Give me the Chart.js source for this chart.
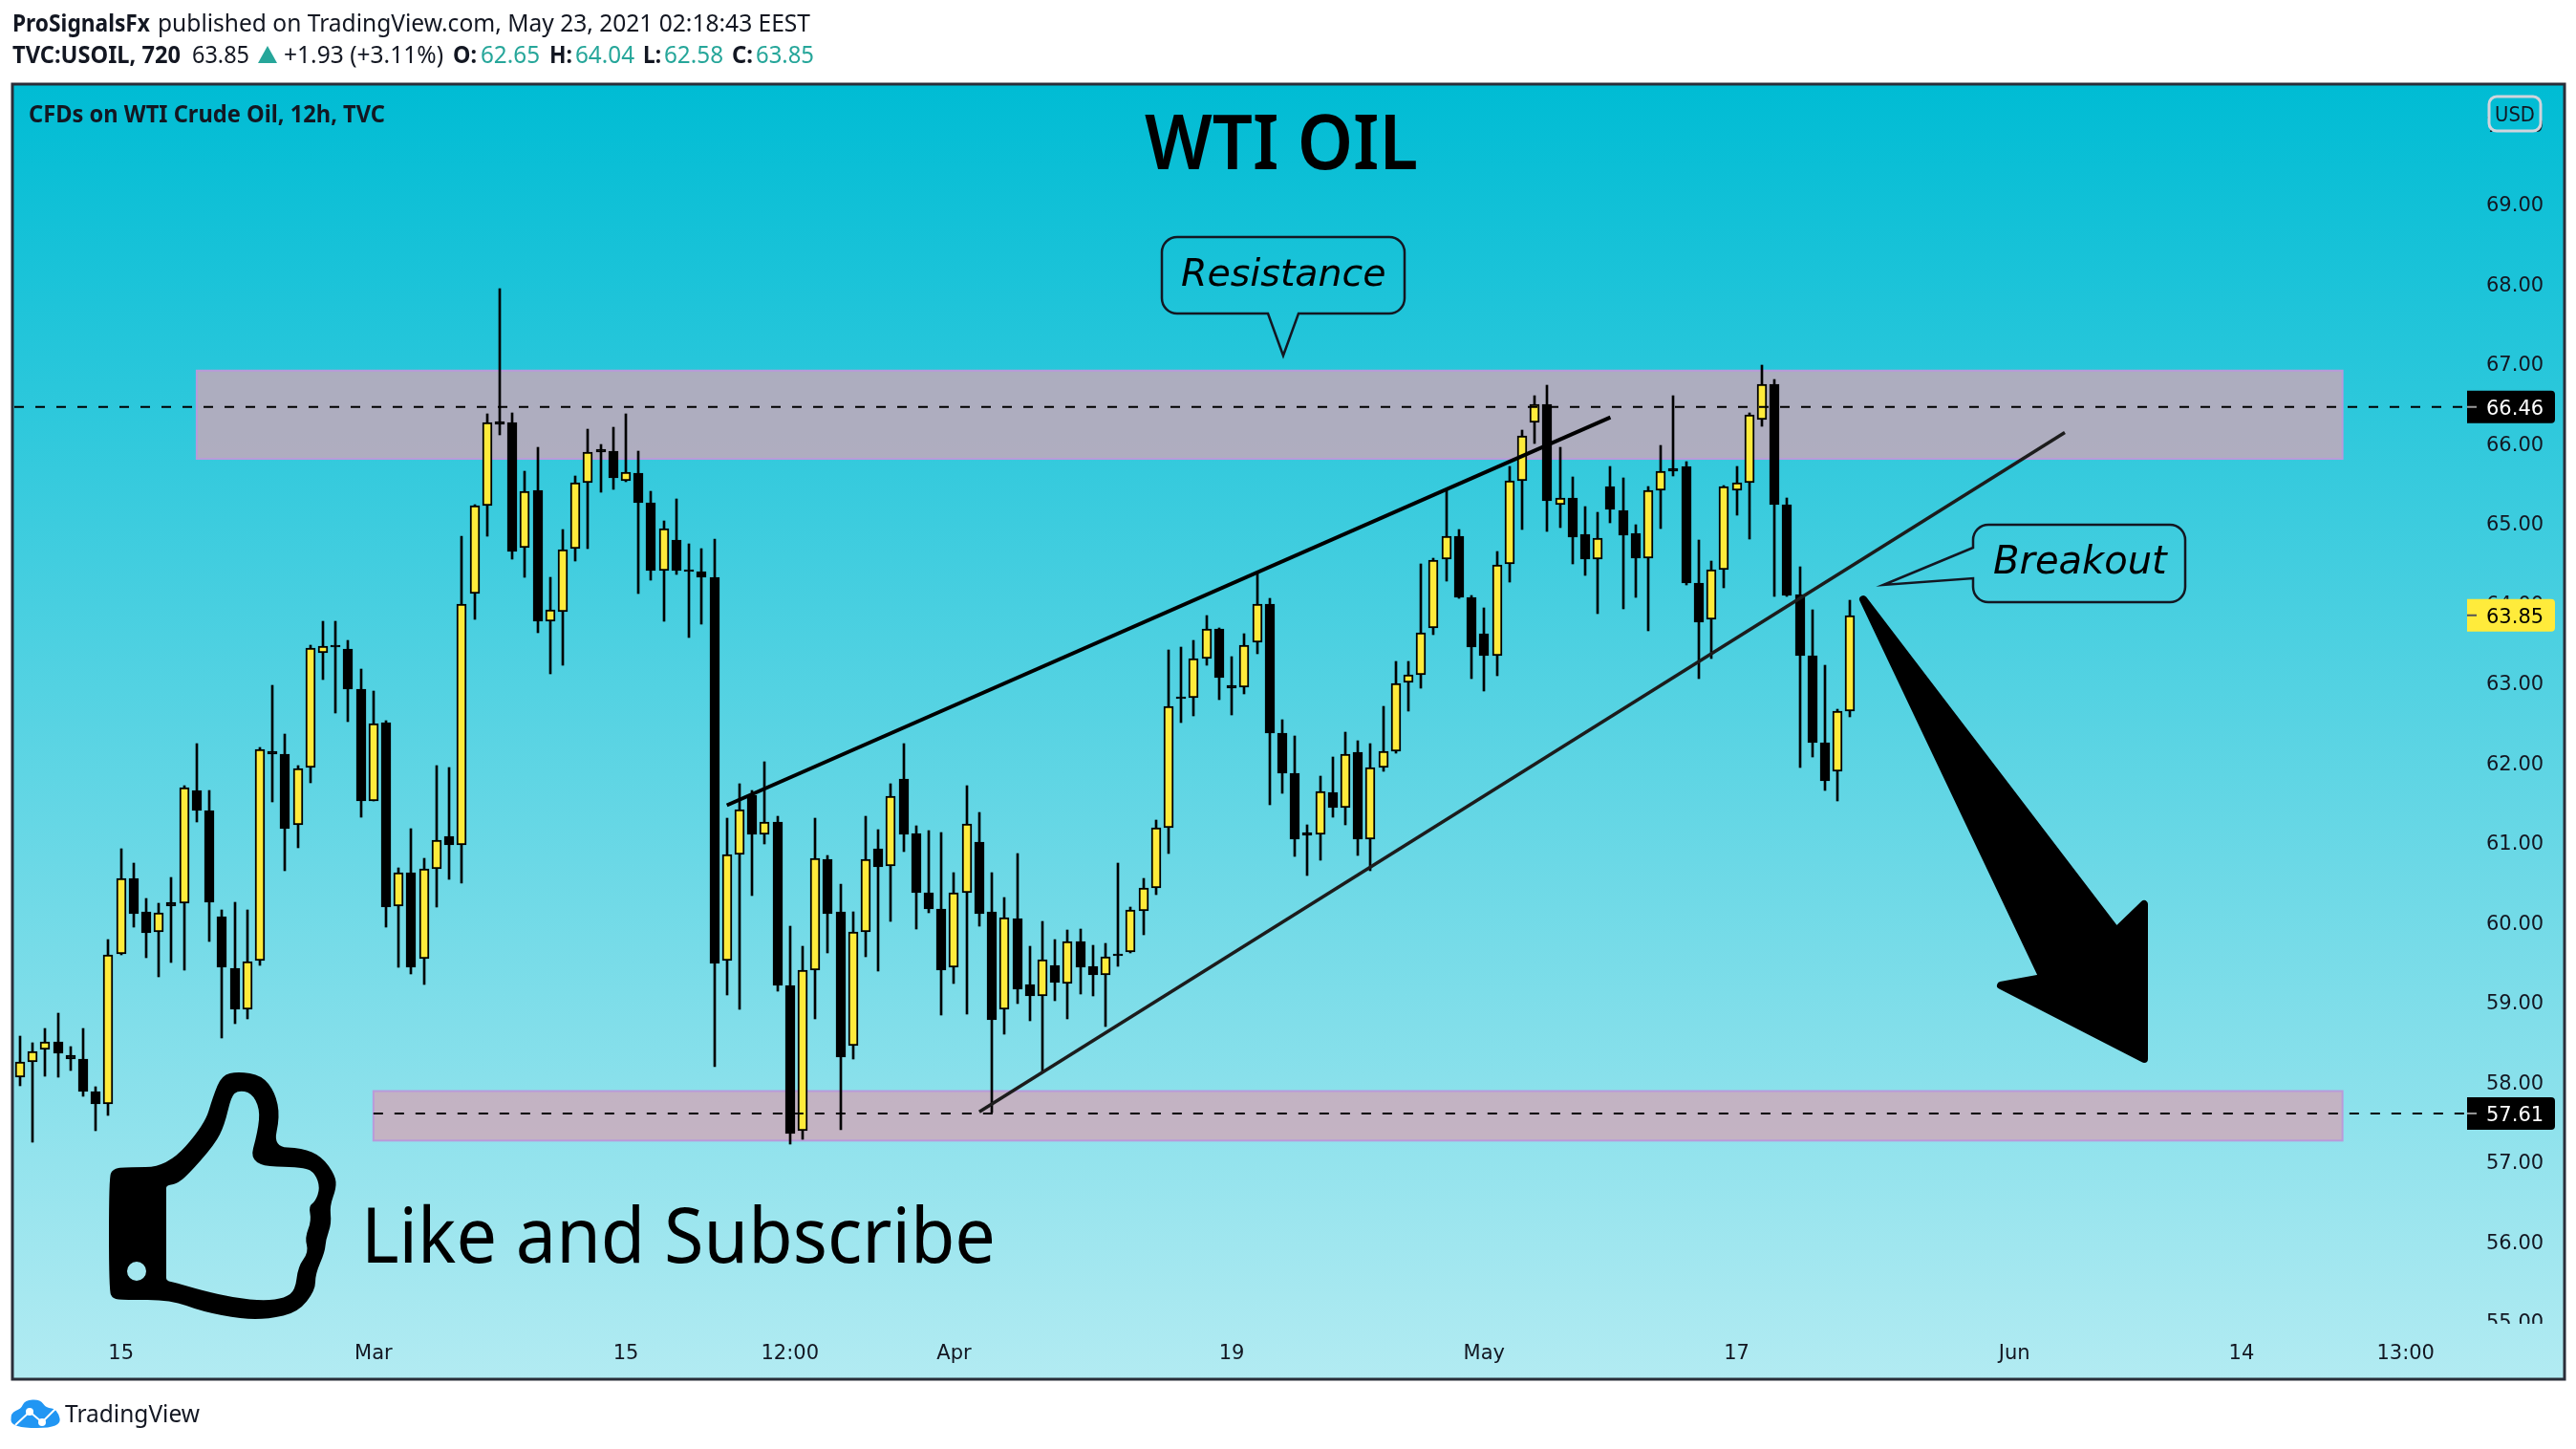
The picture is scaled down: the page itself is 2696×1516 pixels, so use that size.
<!DOCTYPE html>
<html>
<head>
<meta charset="utf-8">
<title>WTI OIL</title>
<script src="https://cdn.jsdelivr.net/npm/chart.js@4"></script>
<style>
html, body { margin: 0; background: #fff; }
canvas { display: block; }
</style>
</head>
<body>
<canvas id="chart" width="2696" height="1516"></canvas>
<script>
const opens = [58.07,58.25,58.41,58.51,58.34,58.29,57.89,57.73,59.61,60.55,60.13,59.88,60.25,60.24,61.65,61.40,60.08,59.43,58.92,59.52,
    62.15,62.11,61.23,61.94,63.38,63.48,63.43,62.93,61.52,62.51,60.21,60.63,59.55,60.67,61.08,60.97,64.12,65.22,66.28,66.26,
    64.70,65.41,63.78,63.90,64.68,65.51,65.93,65.91,65.53,65.63,65.26,64.41,64.79,64.42,64.40,64.33,59.52,60.85,61.60,61.10,
    61.26,59.21,57.39,59.41,60.79,60.13,58.46,59.88,60.93,60.71,61.80,61.12,60.38,60.17,59.44,60.37,61.01,60.13,58.92,60.05,
    59.22,59.08,59.47,59.24,59.76,59.45,59.35,59.61,59.63,60.15,60.44,61.19,62.83,62.82,63.31,63.68,62.97,62.95,63.51,63.99,
    62.38,61.87,61.13,61.10,61.63,61.44,62.14,61.04,61.94,62.15,63.01,63.10,63.69,64.55,64.84,64.08,63.62,63.35,64.49,65.53,
    66.27,66.49,65.24,65.32,64.87,64.55,65.46,65.16,64.88,64.56,65.41,65.69,65.72,64.26,63.80,64.42,65.41,65.51,66.30,66.74,
    65.24,64.11,63.34,62.25,61.90,62.65];
const highs = [58.58,58.49,58.67,58.87,58.45,58.68,57.94,59.79,60.92,60.75,60.30,60.24,60.57,61.71,62.24,61.65,60.16,60.26,60.16,62.19,
    62.97,62.36,61.97,63.47,63.77,63.78,63.54,63.18,62.90,62.53,60.69,61.18,60.80,61.97,61.94,64.84,65.24,66.37,67.94,66.38,
    65.65,65.95,64.32,64.92,65.59,66.18,65.99,66.20,66.37,65.91,65.40,65.03,65.31,64.74,64.68,64.80,61.31,61.74,61.65,62.02,
    61.33,59.96,59.71,61.31,60.84,60.48,60.13,61.33,61.16,61.74,62.24,61.21,61.15,61.13,60.63,61.71,61.38,60.63,60.31,60.86,
    59.70,60.01,59.79,59.91,59.92,59.72,59.74,60.74,60.19,60.56,61.28,63.41,63.45,63.53,63.85,63.69,63.33,63.62,64.39,64.06,
    62.54,62.34,61.23,61.84,62.08,62.39,62.28,62.24,62.71,63.27,63.27,64.49,64.57,65.41,64.92,64.10,63.94,64.65,65.71,66.17,
    66.60,66.73,65.95,65.58,65.21,65.14,65.71,65.57,64.98,65.46,65.98,66.60,65.78,64.79,64.53,65.47,65.71,66.39,66.98,66.80,
    65.32,64.46,63.92,63.22,62.67,64.04];
const lows = [57.96,57.25,58.08,58.06,58.15,57.82,57.39,57.59,59.60,59.94,59.56,59.32,59.50,59.41,61.26,59.76,58.56,58.73,58.79,59.46,
    61.51,60.65,60.94,61.75,63.04,62.62,62.52,61.32,61.52,59.94,59.44,59.36,59.22,60.19,60.54,60.50,63.80,64.84,66.11,64.55,
    64.32,63.63,63.12,63.22,64.53,64.68,65.39,65.43,65.52,64.12,64.29,63.78,64.36,63.57,63.74,58.20,59.09,58.91,60.34,60.98,
    59.14,57.23,57.28,58.80,59.62,57.41,58.29,59.57,59.39,60.01,60.89,59.92,60.12,58.84,59.24,58.86,59.96,57.62,58.60,58.99,
    58.77,58.12,59.02,58.80,59.10,59.08,58.70,59.45,59.62,59.85,60.35,60.87,62.51,62.59,63.23,62.79,62.60,62.87,63.37,61.48,
    61.62,60.83,60.59,60.78,61.32,61.23,60.84,60.65,61.89,62.12,62.65,62.94,63.61,64.28,64.06,63.06,62.90,63.09,64.27,64.93,
    66.00,64.90,64.95,64.49,64.35,63.87,65.01,63.93,64.07,63.66,64.94,65.59,64.23,63.06,63.31,64.19,65.10,64.81,66.22,64.09,
    64.09,61.94,62.07,61.65,61.53,62.58];
const closes = [58.25,58.39,58.51,58.36,58.29,57.88,57.73,59.60,60.55,60.11,59.87,60.12,60.21,61.69,61.40,60.26,59.44,58.92,59.51,62.17,
    62.11,61.18,61.93,63.44,63.46,63.45,62.93,61.52,62.49,60.20,60.63,59.44,60.67,61.03,60.97,63.99,65.22,66.26,66.24,64.65,
    65.40,63.78,63.92,64.67,65.51,65.89,65.90,65.57,65.64,65.26,64.41,64.94,64.41,64.40,64.33,59.49,60.85,61.42,61.10,61.26,
    59.21,57.36,59.41,60.81,60.11,58.31,59.88,60.79,60.70,61.58,61.11,60.37,60.17,59.41,60.38,61.24,60.11,58.78,60.06,59.17,
    59.08,59.54,59.25,59.76,59.44,59.35,59.57,59.58,60.16,60.43,61.19,62.71,62.80,63.31,63.68,63.07,62.94,63.47,63.99,62.37,
    61.87,61.05,61.09,61.64,61.44,62.11,61.05,61.94,62.15,63.00,63.10,63.63,64.54,64.84,64.07,63.45,63.35,64.48,65.53,66.10,
    66.49,65.28,65.32,64.83,64.55,64.82,65.17,64.85,64.56,65.41,65.66,65.65,64.26,63.76,64.42,65.46,65.51,66.36,66.74,65.24,
    64.10,63.35,62.25,61.78,62.65,63.85];

const priceTicks = [55,56,57,58,59,60,61,62,63,64,65,66,67,68,69,70];
const timeTickIndex = [8,28,48,61,74,96,116,136,158,176,189];
const timeTickLabels = ['15','Mar','15','12:00','Apr','19','May','17','Jun','14','13:00'];

const resistanceLevel = 66.46;
const supportLevel = 57.61;
const lastPrice = 63.85;
const resistanceZone = [14, 184, 66.915, 65.81];
const supportZone = [28, 184, 57.89, 57.27];
const upperTrend = [{x: 56, y: 61.47}, {x: 126, y: 66.33}];
const lowerTrend = [{x: 76, y: 57.63}, {x: 162, y: 66.14}];

const xMin = -0.45;
const xMax = 193.87;

const INK = '#131722';
const TEAL = '#26a69a';
const AXIS_FONT = '21px "DejaVu Sans"';
const HEAD_FONT = '"Noto Sans"';

const candles = opens.map((o, i) => ({x: i, y: [o, closes[i]]}));
const wicks = lows.map((l, i) => ({x: i, y: [l, highs[i]]}));
const levelLine = (y, from) => [{x: from, y}, {x: xMax, y}];

function paneGradient(ctx) {
    const g = ctx.createLinearGradient(0, 88, 0, 1443);
    g.addColorStop(0, '#00bcd4');
    g.addColorStop(1, '#b2ebf2');
    return g;
}

function label(ctx, text, x, y, font, color, maxWidth, align) {
    ctx.font = font;
    ctx.fillStyle = color;
    ctx.textAlign = align || 'left';
    ctx.textBaseline = 'alphabetic';
    ctx.fillText(text, x, y, maxWidth);
}

// smooth closed outline through a list of points
function blob(ctx, pts) {
    const mid = (a, b) => [(a[0] + b[0]) / 2, (a[1] + b[1]) / 2];
    const start = mid(pts[pts.length - 1], pts[0]);
    ctx.moveTo(start[0], start[1]);
    pts.forEach((p, i) => {
        const m = mid(p, pts[(i + 1) % pts.length]);
        ctx.quadraticCurveTo(p[0], p[1], m[0], m[1]);
    });
    ctx.closePath();
}

function drawZone(ctx, chart, zone) {
    const {x, y} = chart.scales;
    const left = x.getPixelForValue(zone[0]);
    const right = x.getPixelForValue(zone[1]);
    const top = y.getPixelForValue(zone[2]);
    const bottom = y.getPixelForValue(zone[3]);
    ctx.fillStyle = 'rgba(210,165,183,0.78)';
    ctx.strokeStyle = '#b99ada';
    ctx.lineWidth = 2;
    ctx.fillRect(left, top, right - left, bottom - top);
    ctx.strokeRect(left, top, right - left, bottom - top);
}

function drawPriceBox(ctx, y, fill, textColor, tickColor, text) {
    ctx.fillStyle = fill;
    ctx.beginPath();
    ctx.roundRect(2582, y - 17, 92, 34, [0, 4, 4, 0]);
    ctx.fill();
    ctx.fillStyle = tickColor;
    ctx.fillRect(2582, y - 1, 10, 2);
    label(ctx, text, 2602, y + 8, AXIS_FONT, textColor);
}

function drawHeader(ctx) {
    const bold = '700 25px ' + HEAD_FONT;
    const reg = '400 25px ' + HEAD_FONT;
    label(ctx, 'ProSignalsFx', 13, 33, bold, INK, 144);
    label(ctx, 'published on TradingView.com, May 23, 2021 02:18:43 EEST', 165, 33, reg, INK, 683);
    const row = [
        ['TVC:USOIL, 720', 13, 176, bold, INK],
        ['63.85', 201, 60, reg, INK],
        ['+1.93 (+3.11%)', 297, 167, reg, INK],
        ['O:', 474, 25, bold, INK], ['62.65', 503, 62, reg, TEAL],
        ['H:', 575, 24, bold, INK], ['64.04', 602, 62, reg, TEAL],
        ['L:', 673, 19, bold, INK], ['62.58', 695, 62, reg, TEAL],
        ['C:', 766, 22, bold, INK], ['63.85', 791, 61, reg, TEAL]
    ];
    row.forEach(r => label(ctx, r[0], r[1], 66, r[3], r[4], r[2]));
    ctx.fillStyle = TEAL;
    ctx.beginPath();
    ctx.moveTo(280, 48);
    ctx.lineTo(290, 66);
    ctx.lineTo(270, 66);
    ctx.closePath();
    ctx.fill();
}

function drawFooter(ctx) {
    ctx.fillStyle = '#2196f3';
    ctx.beginPath();
    blob(ctx, [[12, 1494], [11, 1478], [22, 1474], [26, 1465], [42, 1464], [48, 1473], [60, 1474], [65, 1494]]);
    ctx.fill();
    ctx.strokeStyle = '#fff';
    ctx.lineWidth = 2;
    ctx.beginPath();
    ctx.moveTo(16, 1491);
    ctx.lineTo(31, 1477);
    ctx.lineTo(44, 1488);
    ctx.lineTo(58, 1474);
    ctx.stroke();
    ctx.fillStyle = '#fff';
    [[31, 1477], [44, 1488]].forEach(p => {
        ctx.beginPath();
        ctx.arc(p[0], p[1], 4, 0, Math.PI * 2);
        ctx.fill();
    });
    label(ctx, 'TradingView', 68, 1488, '400 25px ' + HEAD_FONT, INK, 141);
}

function drawThumb(ctx) {
    const outer = [[175,1221],[214,1177],[223,1147],[232,1125],[249,1121],[274,1125],[288,1143],[293,1168],[286,1200],
        [316,1201],[337,1210],[351,1230],[352,1243],[345,1262],[347,1280],[341,1297],[340,1310],[330,1333],[330,1350],
        [312,1373],[281,1380],[253,1380],[211,1372],[179,1360],[130,1360],[118,1359],[114,1350],[114,1232],[118,1223],[130,1221]];
    const inner = [[174,1246],[174,1240],[184,1239],[196,1230],[225,1197],[235,1177],[242,1147],[249,1141],[263,1143],[272,1160],
        [270,1183],[260,1220],[319,1221],[330,1228],[335,1243],[330,1257],[323,1262],[326,1277],[319,1295],[323,1310],
        [312,1325],[309,1350],[298,1358],[277,1361],[246,1358],[211,1350],[184,1342],[174,1340],[174,1334]];
    ctx.fillStyle = '#000';
    ctx.beginPath();
    blob(ctx, outer);
    blob(ctx, inner);
    ctx.moveTo(153, 1330);
    ctx.arc(143, 1330, 10, 0, Math.PI * 2);
    ctx.fill('evenodd');
}

function drawArrow(ctx) {
    ctx.fillStyle = '#000';
    ctx.strokeStyle = '#000';
    ctx.lineWidth = 8;
    ctx.lineJoin = 'round';
    ctx.beginPath();
    ctx.moveTo(1950, 627);
    ctx.lineTo(2215, 974);
    ctx.lineTo(2244, 946);
    ctx.lineTo(2244, 1108);
    ctx.lineTo(2094, 1031);
    ctx.lineTo(2138, 1023);
    ctx.closePath();
    ctx.fill();
    ctx.stroke();
    ctx.lineJoin = 'miter';
}

function drawCallouts(ctx) {
    ctx.strokeStyle = INK;
    ctx.lineWidth = 2.5;
    // Resistance box, tail pointing down
    ctx.beginPath();
    ctx.moveTo(1327, 328);
    ctx.lineTo(1343, 372);
    ctx.lineTo(1359, 328);
    ctx.arcTo(1470, 328, 1470, 248, 16);
    ctx.arcTo(1470, 248, 1216, 248, 16);
    ctx.arcTo(1216, 248, 1216, 328, 16);
    ctx.arcTo(1216, 328, 1327, 328, 16);
    ctx.closePath();
    ctx.stroke();
    label(ctx, 'Resistance', 1236, 299, 'italic 39.5px "DejaVu Sans"', '#000');
    // Breakout box, tail pointing left
    ctx.beginPath();
    ctx.moveTo(2065, 573);
    ctx.lineTo(1971, 612);
    ctx.lineTo(2065, 605);
    ctx.arcTo(2065, 630, 2287, 630, 16);
    ctx.arcTo(2287, 630, 2287, 549, 16);
    ctx.arcTo(2287, 549, 2065, 549, 16);
    ctx.arcTo(2065, 549, 2065, 573, 16);
    ctx.closePath();
    ctx.stroke();
    label(ctx, 'Breakout', 2086, 600, 'italic 40px "DejaVu Sans"', '#000');
}

const tvPlugin = {
    id: 'tvPane',
    afterDatasetsUpdate(chart) {
        // candles sit on whole pixels so the borders stay crisp
        chart.data.datasets.forEach((d, i) => {
            const meta = chart.getDatasetMeta(i);
            if (meta.type !== 'bar') return;
            meta.data.forEach(bar => {
                bar.x = Math.round(bar.x);
                bar.y = Math.round(bar.y);
                bar.base = Math.round(bar.base);
            });
        });
    },
    beforeDraw(chart) {
        const ctx = chart.ctx;
        ctx.save();
        ctx.fillStyle = '#fff';
        ctx.fillRect(0, 0, chart.width, chart.height);
        ctx.fillStyle = paneGradient(ctx);
        ctx.fillRect(13, 88, 2671, 1355);
        ctx.strokeStyle = '#2a2e39';
        ctx.lineWidth = 3;
        ctx.strokeRect(13, 88, 2671, 1355);
        ctx.restore();
    },
    beforeDatasetsDraw(chart) {
        const ctx = chart.ctx;
        ctx.save();
        // price labels are cut off where the time axis begins
        ctx.fillStyle = paneGradient(ctx);
        ctx.fillRect(2584, 1385, 97, 24);
        drawZone(ctx, chart, resistanceZone);
        drawZone(ctx, chart, supportZone);
        ctx.restore();
    },
    afterDatasetsDraw(chart) {
        const ctx = chart.ctx;
        const y = chart.scales.y;
        ctx.save();
        drawPriceBox(ctx, y.getPixelForValue(resistanceLevel), '#000', '#fff', '#9a9a9a', resistanceLevel.toFixed(2));
        drawPriceBox(ctx, y.getPixelForValue(lastPrice), '#ffeb3b', '#000', '#555', lastPrice.toFixed(2));
        drawPriceBox(ctx, y.getPixelForValue(supportLevel), '#000', '#fff', '#9a9a9a', supportLevel.toFixed(2));

        ctx.fillStyle = paneGradient(ctx);
        ctx.strokeStyle = '#d1d4dc';
        ctx.lineWidth = 3;
        ctx.beginPath();
        ctx.roundRect(2605, 101, 54, 36, 8);
        ctx.fill();
        ctx.stroke();
        label(ctx, 'USD', 2632, 127, AXIS_FONT, INK, 42, 'center');

        label(ctx, 'CFDs on WTI Crude Oil, 12h, TVC', 30, 128, '700 25px ' + HEAD_FONT, INK, 373);
        label(ctx, 'WTI OIL', 1341, 177, '600 80px ' + HEAD_FONT, '#000', 286, 'center');
        label(ctx, 'Like and Subscribe', 378, 1321, '400 80px ' + HEAD_FONT, '#000', 664);
        drawCallouts(ctx);
        drawArrow(ctx);
        drawThumb(ctx);
        drawHeader(ctx);
        drawFooter(ctx);
        ctx.restore();
    }
};

new Chart(document.getElementById('chart').getContext('2d'), {
    type: 'bar',
    data: {
        datasets: [
            {type: 'line', data: upperTrend, borderColor: '#000', borderWidth: 4, pointRadius: 0},
            {type: 'line', data: lowerTrend, borderColor: '#1c1c1c', borderWidth: 3.5, pointRadius: 0},
            {type: 'line', data: levelLine(resistanceLevel, xMin), borderColor: '#000', borderWidth: 2, borderDash: [10, 12], pointRadius: 0},
            {type: 'line', data: levelLine(supportLevel, supportZone[0]), borderColor: '#000', borderWidth: 2, borderDash: [10, 12], pointRadius: 0},
            {
                label: 'body',
                data: candles,
                grouped: false,
                barPercentage: 1,
                categoryPercentage: 1,
                maxBarThickness: 10,
                minBarLength: 2,
                borderWidth: 2,
                borderSkipped: false,
                borderColor: '#000',
                backgroundColor: candles.map((c, i) => closes[i] > opens[i] ? '#ffeb3b' : '#000')
            },
            {
                label: 'wick',
                data: wicks,
                grouped: false,
                barPercentage: 1,
                categoryPercentage: 1,
                maxBarThickness: 2,
                backgroundColor: '#000'
            }
        ]
    },
    options: {
        responsive: false,
        animation: false,
        devicePixelRatio: 1,
        layout: {padding: {left: 15, top: 90, right: 15, bottom: 75}},
        plugins: {legend: {display: false}, tooltip: {enabled: false}},
        scales: {
            x: {
                type: 'linear',
                offset: false,
                min: xMin,
                max: xMax,
                grid: {display: false, offset: false},
                border: {display: false},
                afterFit: axis => { axis.height = 56; },
                afterBuildTicks: axis => { axis.ticks = timeTickIndex.map(value => ({value})); },
                ticks: {
                    autoSkip: false,
                    maxRotation: 0,
                    padding: 11,
                    color: INK,
                    font: {family: 'DejaVu Sans', size: 21},
                    callback: value => timeTickLabels[timeTickIndex.indexOf(value)]
                }
            },
            y: {
                position: 'right',
                min: 54.975,
                max: 70.48,
                grid: {display: false},
                border: {display: false},
                afterFit: axis => { axis.width = 99; },
                afterBuildTicks: axis => { axis.ticks = priceTicks.map(value => ({value})); },
                ticks: {
                    autoSkip: false,
                    padding: 12,
                    labelOffset: 2,
                    color: INK,
                    font: {family: 'DejaVu Sans', size: 21},
                    callback: value => value.toFixed(2)
                }
            }
        }
    },
    plugins: [tvPlugin]
});
</script>
</body>
</html>
